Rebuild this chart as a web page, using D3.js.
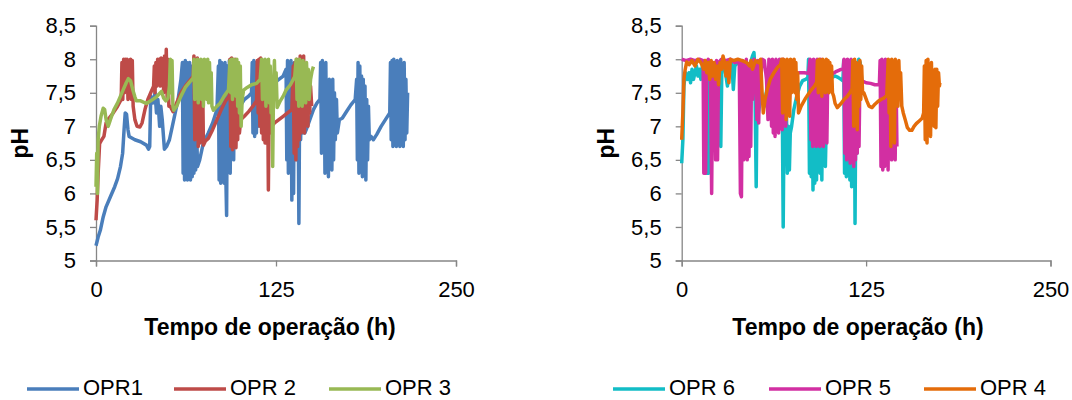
<!DOCTYPE html>
<html>
<head>
<meta charset="utf-8">
<script src="https://cdn.jsdelivr.net/npm/d3@7"></script>
<style>
  body { margin: 0; background: #fff; }
  svg { display: block; }
  text { font-family: "Liberation Sans", Arial, sans-serif; fill: #000; }
</style>
</head>
<body>
<svg id="main-svg" width="1072" height="400"></svg>
<script>
// tick labels
const xTicks = [0, 125, 250];
const yTicks = [5, 5.5, 6, 6.5, 7, 7.5, 8, 8.5];

// series names (legend order)
const leftNames = ["OPR1", "OPR 2", "OPR 3"];
const rightNames = ["OPR 6", "OPR 5", "OPR 4"];

// [tempo (h), pH]
const opr1 = [[0,5.22],[1.5,5.35],[3,5.45],[5,5.65],[7,5.8],[10,5.95],[13,6.1],[15,6.22],[17,6.4],[18.5,6.6],[19.5,6.95],[20.3,7.2],[21.2,7.18],[22.2,6.95],[23,6.85],[27,6.8],[31,6.77],[35,6.72],[36.5,6.66],[37.3,6.7],[38,7.45],[39.5,7.35],[41,7.5],[42,7.2],[43,7.4],[44.2,7.0],[45,7.3],[46,7.1],[47.5,6.66],[49,6.7],[51,6.8],[53,7.0],[55,7.2],[57,7.4],[59,7.7],[60,7.95],
  [60.5,6.3],[61,7.95],[61.5,6.2],[62,7.98],[62.5,6.25],[63,7.95],[63.5,6.2],[64,7.9],[64.5,6.3],[65,7.95],[65.6,6.2],[66.2,7.9],[66.8,6.25],[67.4,7.6],[68,6.3],[68.6,7.4],[69.2,6.35],[69.8,7.0],[70.5,6.4],
  [72,6.5],[74.5,6.75],[78,6.9],[81,7.05],[84,7.25],[85,7.9],
  [85.5,6.2],[86,7.98],[86.6,6.15],[87.2,7.95],[87.8,6.3],[88.4,7.9],[89,6.15],[89.6,7.95],[90.2,6.2],[90.7,5.67],[91.3,7.9],[92,6.4],[92.6,7.98],[93.2,6.3],[93.8,7.9],[94.4,6.6],[95,7.95],[95.6,6.5],[96.2,7.8],[96.8,6.7],[97.5,7.3],
  [98,7.1],[100,7.3],[103,7.4],[106,7.45],[108,7.5],
  [108.5,7.95],[109,6.9],[109.6,7.98],[110.2,6.85],[110.8,7.95],[111.4,6.9],[112,7.9],[112.6,7.0],[113.2,7.85],[113.8,7.2],
  [115,7.4],[118,7.5],[121,7.6],[124,7.65],[127,7.7],[130,7.75],[132,7.85],
  [132.5,6.5],[133,7.98],[133.6,6.3],[134.2,7.95],[134.8,6.6],[135.4,7.98],[136,5.9],[136.6,7.9],[137.2,6.0],[137.8,7.95],[138.4,6.6],[139,7.9],[139.6,6.5],[140.2,7.8],[140.9,5.55],[141.5,7.6],[142.1,6.8],[142.7,7.5],[143.3,6.9],[144,7.2],[145,6.9],
  [146,6.95],[148.5,7.1],[151,7.25],[153.5,7.35],[155.5,7.4],
  [156,7.95],[156.6,6.6],[157.2,7.98],[157.8,6.9],[158.4,7.9],[159,6.3],[159.6,7.95],[160.2,6.5],[160.8,7.6],[161.4,6.25],[162,7.7],[162.6,6.4],[163.2,7.2],[163.8,6.35],[164.4,7.7],[165,6.5],[165.6,7.5],[166.2,6.8],[167,7.4],[167.6,6.9],
  [169,7.1],[171,7.12],[174,7.22],[177,7.32],[180,7.4],[181,7.7],
  [181.5,6.5],[182,7.95],[182.6,6.3],[183.2,7.9],[183.8,6.6],[184.4,7.75],[185,6.25],[185.6,7.7],[186.2,6.4],[186.8,7.6],[187.4,6.2],[188,7.4],[188.6,6.5],[189.2,7.3],[189.8,6.8],
  [191,6.85],[192.6,6.8],[195,6.88],[198,7.0],[201,7.1],[204,7.2],
  [204.5,7.95],[205,6.8],[205.6,7.98],[206.2,6.7],[206.8,8.0],[207.4,6.75],[208,7.9],[208.6,6.7],[209.2,7.98],[209.8,6.8],[210.4,7.95],[211,6.7],[211.6,8.0],[212.2,6.75],[212.8,7.9],[213.4,6.7],[214,7.95],[214.6,6.8],[215.2,7.7],[215.8,6.9],[216.4,7.5]];

const opr2 = [[0,5.6],[0.8,5.9],[1.5,6.3],[2.5,6.74],[4,6.8],[5.5,6.85],[7,7.05],[9,7.12],[12,7.2],[15,7.3],[17.5,7.4],
  [18,7.95],[18.6,7.4],[19.2,8.0],[19.8,7.5],[20.4,8.0],[21,7.6],[21.6,8.0],[22.2,7.4],[22.8,7.98],[23.4,7.5],[24,8.0],[24.6,7.4],[25.2,7.98],[25.8,7.3],
  [27,7.1],[28.5,7.0],[30.5,6.99],[32,7.05],[34,7.25],[36,7.4],[38,7.5],[40,7.6],
  [40.5,7.9],[41,7.5],[41.6,7.95],[42.2,7.6],[42.8,8.0],[43.4,7.7],[44,8.0],[44.6,7.6],[45.2,8.02],[45.8,7.7],[46.4,8.0],[47,7.5],[47.6,8.05],[48.2,7.6],[48.8,8.15],[49.4,7.4],[50,8.0],[50.6,7.3],
  [51.5,7.3],[53.5,7.22],[56,7.35],[59,7.5],[62,7.6],[65,7.68],[67.5,7.75],
  [68,8.05],[68.6,6.8],[69.2,8.0],[69.8,7.0],[70.4,8.02],[71,6.7],[71.6,7.95],[72.2,6.75],[72.8,7.9],[73.4,6.9],[74,7.8],[74.6,6.72],
  [76,6.78],[78,6.82],[81,6.95],[84,7.1],[87,7.25],[90,7.38],[92.5,7.45],
  [93,8.0],[93.6,6.7],[94.2,8.02],[94.8,6.65],[95.4,7.98],[96,6.7],[96.6,8.0],[97.2,6.68],[97.8,7.9],[98.4,6.8],[99,7.7],[99.6,6.9],
  [100.5,7.1],[103,7.15],[106,7.22],[109,7.3],[111.5,7.38],
  [112,7.98],[112.6,7.2],[113.2,8.0],[113.8,7.0],[114.4,8.02],[115,6.9],[115.6,7.98],[116.2,6.8],[116.8,7.95],[117.4,6.75],[118,7.9],[118.6,6.8],[119.2,7.5],[119.7,6.05],[120.3,7.4],[121,6.9],
  [122,7.0],[124,7.05],[127,7.1],[130,7.15],[133,7.2],[136,7.25],
  [137,7.9],[137.6,6.6],[138.2,7.95],[138.8,6.5],[139.4,8.0],[140,6.7],[140.6,7.98],[141.2,6.8],[141.8,8.05],[142.4,6.9],[143,7.95],[143.6,7.0],[144.2,8.05],[144.8,6.9],[145.4,7.9],[146,7.1],[146.6,7.8],[147.2,7.0],[147.8,7.7],[148.4,7.2],[149,7.6],[149.8,7.3]];

const opr3 = [[0,6.1],[0.5,6.6],[1,6.0],[1.5,6.8],[2.3,7.0],[3.5,7.15],[5,7.27],[6,7.25],[7,7.1],[8.5,7.0],[10,7.1],[12.5,7.25],[15,7.35],[17,7.45],[19,7.55],[21,7.65],[22.5,7.71],[24,7.68],[25.5,7.55],[27,7.44],[28,7.38],[31,7.38],[35,7.34],[38,7.38],[42,7.44],[45.5,7.52],[47,7.42],[48.5,7.38],[50,7.42],
  [51,7.6],[51.6,8.0],[52.2,7.5],[52.8,7.98],[53.4,7.3],
  [54,7.24],[56,7.3],[59,7.45],[62,7.58],[65,7.66],[67.5,7.72],
  [68,8.0],[68.6,7.4],[69.2,7.98],[69.8,7.5],[70.4,8.0],[71,7.35],[71.6,7.98],[72.2,7.5],[72.8,8.0],[73.4,7.4],[74,7.98],[74.6,7.3],[75.2,8.0],[75.8,7.5],[76.4,7.98],[77,7.4],[77.6,8.0],[78.2,7.35],[78.8,7.95],[79.4,7.5],[80,7.8],
  [80.5,7.3],[81.5,7.24],[84,7.3],[86,7.34],[89,7.45],[92,7.54],
  [93,7.98],[93.6,7.5],[94.2,8.0],[94.8,7.4],[95.4,8.0],[96,7.5],[96.6,7.98],[97.2,7.45],[97.8,8.0],[98.4,7.3],[99,7.95],[99.6,7.2],[100.2,7.9],[100.8,7.0],
  [101.5,7.4],[102.5,7.54],[105,7.58],[108,7.62],[111.5,7.64],[114,7.7],
  [115,8.0],[115.6,7.4],[116.2,7.98],[116.8,7.5],[117.4,8.0],[118,7.3],[118.6,7.95],[119.2,7.5],[119.8,8.0],[120.4,7.35],[121,7.9],[121.6,7.2],[122.2,7.7],[122.7,6.4],[123.3,7.6],[123.9,7.98],[124.5,7.4],[125.1,7.8],
  [125.8,7.28],[128,7.38],[130,7.45],[132,7.54],[135,7.62],[138,7.74],
  [139,8.0],[139.6,7.4],[140.2,7.98],[140.8,7.3],[141.4,8.0],[142,7.5],[142.6,7.95],[143.2,7.3],[143.8,7.98],[144.4,7.45],[145,7.9],[145.6,7.35],[146.2,7.95],[146.8,7.5],[147.4,7.85],[148,7.4],
  [149,7.7],[150,7.82],[151,7.89]];

const opr6 = [[0,6.45],[0.8,6.8],[1.5,7.6],[2.5,7.8],[4,7.7],[5,7.8],[6,7.65],[7,7.85],[8,7.7],[9,7.8],[10,7.9],[11,7.75],[12,7.85],[13,7.7],[14,7.9],[15,7.85],[16,7.95],
  [17,6.3],[17.6,7.95],[18.3,6.3],[19,7.9],[21,7.85],[23,7.9],[25,7.8],
  [26.5,6.7],[27.2,7.85],[29,7.9],[31,7.6],[32,7.9],[34,7.95],[35,7.55],[36,7.9],[38,7.95],[40,7.9],[42,7.7],[44,7.95],[46,7.9],[48,8.05],[49,8.1],[49.5,7.9],
  [50.5,6.1],[51.2,7.8],[52,7.2],[54,7.5],[56,7.3],[58,7.6],[60,7.9],[62,7.7],[64,7.95],[66,7.8],[68,7.9],
  [68.8,5.5],[69.5,7.4],[70.2,6.7],[71,7.2],[71.6,6.3],[72.3,7.0],[73,6.35],[73.6,6.9],[74.5,7.0],[76,7.25],[78,7.45],[80,7.6],[82,7.68],[84,7.7],[85.5,7.72],
  [86,8.0],[86.6,6.3],[87.2,7.9],[87.8,6.25],[88.4,7.95],[89,6.05],[89.6,7.9],[90.2,6.15],[90.8,7.8],[91.4,6.2],[92,7.9],[92.6,6.4],[93.2,7.85],[93.8,6.3],[94.4,7.9],[95,6.2],[95.6,7.8],[96.2,6.5],[96.8,7.7],[97.4,6.4],
  [98.5,7.6],[100,7.68],[102,7.73],[104,7.75],[106,7.73],[108,7.7],[109.3,7.68],
  [109.8,7.98],[110.4,6.3],[111,7.95],[111.6,6.25],[112.2,7.9],[112.8,6.4],[113.4,7.98],[114,6.2],[114.6,7.9],[115.2,6.1],[115.8,7.85],[116.4,6.3],[117,7.7],[117.5,5.55],[118.1,7.6],[118.7,6.6],[119.3,7.9],[120,8.0],[121,7.95],[122,7.7]];

const opr5 = [[0,8.0],[3,7.98],[6,8.0],[9,7.98],[12,8.0],[14.5,7.98],
  [15,6.3],[15.6,7.98],[16.2,6.3],[17,7.95],[18,8.0],[19.5,7.9],
  [20.3,6.0],[21,7.95],[22,7.9],[23,6.5],[23.6,7.98],[24.3,6.5],[25,7.95],[27,8.0],[30,7.98],[33,8.0],[36,7.95],[39,7.98],
  [39.8,6.0],[40.5,5.95],[41.2,7.98],[42,6.5],[42.6,7.95],[43.2,6.6],[43.8,8.0],[44.4,6.5],[45,7.9],[45.6,6.55],[46.2,7.8],[46.8,6.7],[47.4,7.95],[48,7.4],
  [49,8.0],[50,7.9],[51,7.1],[51.6,7.98],[52.2,7.05],[52.8,7.95],[53.4,7.6],[54.5,8.0],[56,7.98],[57.5,7.7],
  [58.5,7.1],[59.1,8.0],[59.7,7.2],[60.3,7.98],[60.9,7.0],[61.5,8.0],[62.1,6.9],[62.7,7.95],[63.3,6.85],[63.9,8.0],[64.5,7.0],[65.1,7.9],[65.7,6.9],[66.3,8.0],[66.9,7.1],[67.5,7.95],[68.1,6.95],[68.7,8.0],[69.3,7.2],[69.9,7.9],[70.5,7.0],[71.1,7.95],[71.7,7.3],[72.3,7.8],[73,7.4],
  [74,7.8],[77,7.78],[80,7.8],[83,7.8],[86,7.79],
  [87,8.0],[87.6,6.8],[88.2,7.98],[88.8,6.7],[89.4,8.0],[90,6.75],[90.6,7.95],[91.2,6.7],[91.8,8.0],[92.4,6.8],[93,7.95],[93.6,6.7],[94.2,8.0],[94.8,6.75],[95.4,7.9],[96,6.7],[96.6,7.95],[97.2,6.8],[97.8,7.9],[98.4,6.75],[99,7.8],
  [99.8,7.75],[102,7.78],[105,7.82],[108,7.85],[109.5,7.86],
  [110,8.0],[110.6,6.6],[111.2,7.98],[111.8,6.5],[112.4,8.0],[113,6.7],[113.6,7.95],[114.2,6.45],[114.8,8.0],[115.4,6.6],[116,7.9],[116.6,6.4],[117.2,7.95],[117.8,6.5],[118.4,7.9],[119,6.6],[119.6,7.8],[120.2,6.7],[120.8,7.7],
  [122,7.68],[125,7.65],[128,7.64],[131,7.62],[134,7.62],
  [134.5,7.98],[135.1,6.4],[135.7,8.0],[136.3,6.35],[136.9,7.95],[137.5,6.4],[138.1,8.0],[138.7,6.5],[139.3,7.9],[139.9,6.35],[140.5,7.98],[141.1,6.6],[141.7,7.9],[142.3,6.5],[142.9,7.95],[143.5,6.6],[144.1,7.8],[144.7,6.5],[145.3,7.7],[145.9,6.7]];

const opr4 = [[0,6.8],[0.8,7.2],[1.5,7.7],[2.3,7.84],[3.4,7.96],[5,7.92],[7,7.98],[9,7.9],[11,8.0],[13,7.95],[15,7.85],[16,7.98],[17,7.8],[18,7.95],[19,7.7],[20,7.98],[21,7.75],[22,7.95],[23,7.7],[24,7.9],[25,7.62],[26,7.95],[27,7.85],[28,8.05],[29,7.95],[30,7.75],[31,7.95],[32,7.65],[33,8.0],[35,7.98],[38,8.0],[41,7.98],[44,7.95],[46,7.9],[47,7.98],[48,7.85],[50,7.98],[52,7.95],[53.5,8.0],
  [54.5,7.5],[55.3,7.2],[56.5,7.4],[58,7.55],[60,7.7],[62.5,7.8],[65,7.88],[67,7.92],
  [67.8,8.0],[68.4,7.2],[69,8.0],[69.6,7.3],[70.2,7.98],[70.8,7.1],[71.4,8.0],[72,7.4],[72.6,7.98],[73.2,7.15],[73.8,8.0],[74.4,7.5],[75,7.98],[75.6,7.6],[76.2,8.0],[76.8,7.5],[77.4,7.95],[78,7.4],[78.6,7.8],
  [79.2,7.2],[81,7.3],[84,7.42],[87,7.52],[90,7.6],[91.5,7.66],
  [92,7.98],[92.6,7.5],[93.2,8.0],[93.8,7.6],[94.4,7.98],[95,7.45],[95.6,8.0],[96.2,7.6],[96.8,7.95],[97.4,7.5],[98,8.0],[98.6,7.6],[99.2,7.98],[99.8,7.5],[100.4,7.95],[101,7.6],[101.6,7.9],[102.2,7.5],
  [103,7.45],[104,7.34],[105.5,7.28],[108,7.34],[110,7.4],[112,7.44],[114,7.5],[115.5,7.56],
  [116,7.98],[116.6,7.0],[117.2,8.0],[117.8,7.2],[118.4,7.95],[119,6.95],[119.6,7.9],[120.2,7.3],[120.8,7.98],[121.4,7.4],[122,7.9],[122.6,7.5],
  [123.5,7.5],[125.5,7.38],[127,7.3],[129,7.28],[131,7.33],[133,7.37],[135,7.4],[137,7.42],[139,7.46],
  [140,8.0],[140.6,7.2],[141.2,7.98],[141.8,6.7],[142.4,8.0],[143,7.3],[143.6,7.95],[144.2,6.75],[144.8,8.0],[145.4,7.4],[146,7.9],[146.6,7.3],[147.2,7.98],[147.8,7.5],[148.4,7.8],
  [149.2,7.3],[150.2,7.2],[151.5,7.1],[153,6.98],[154.5,6.94],[156,6.94],[157.5,7.0],[159,7.04],[161,7.08],[163,7.12],[164,7.2],
  [164.5,7.9],[165.1,6.8],[165.7,7.98],[166.3,6.75],[166.9,8.0],[167.5,7.0],[168.1,7.9],[168.7,6.85],[169.3,7.95],[169.9,7.1],[170.5,7.8],[171.1,7.0],[171.7,7.85],[172.3,6.98],[172.9,7.85],[173.5,7.3],[174.1,7.8],[174.7,7.6],[175,7.65]];

const leftColors = ["#4A7EBB", "#BE4B48", "#98B954"];
const rightColors = ["#12BDC6", "#D22FA2", "#E46C0A"];

const svg = d3.select("#main-svg");
const axisColor = "#868686";
const fmt = d => String(d).replace(".", ",");

function drawPanel(cfg) {
    const g = svg.append("g");
    const x = d3.scaleLinear().domain([0, 250]).range([cfg.x0, cfg.x1]);
    const y = d3.scaleLinear().domain([5, 8.5]).range([260.5, 25.7]);

    // y axis
    const yAxis = g.append("g")
        .attr("transform", `translate(${cfg.x0},0)`)
        .call(d3.axisLeft(y).tickValues(yTicks).tickFormat(fmt).tickSize(6).tickPadding(14));
    // x axis
    const xAxis = g.append("g")
        .attr("transform", `translate(0,${y(5)})`)
        .call(d3.axisBottom(x).tickValues(xTicks).tickSize(6).tickPadding(15));

    [yAxis, xAxis].forEach(a => {
        a.select(".domain").attr("stroke", axisColor).attr("stroke-width", 1.3);
        a.selectAll(".tick line").attr("stroke", axisColor).attr("stroke-width", 1.3);
        a.selectAll(".tick text").attr("font-size", 22)
            .attr("font-family", "'Liberation Sans', Arial, sans-serif").attr("fill", "#000");
    });

    // lines
    const line = d3.line().x(d => x(d[0])).y(d => y(d[1]));
    cfg.data.forEach((s, i) => {
        g.append("path")
            .datum(s)
            .attr("d", line)
            .attr("fill", "none")
            .attr("stroke", cfg.colors[i])
            .attr("stroke-width", 3.5)
            .attr("stroke-linejoin", "round");
    });

    // axis titles
    g.append("text")
        .attr("x", cfg.titleX)
        .attr("y", 335)
        .attr("text-anchor", "middle")
        .attr("font-size", 23)
        .attr("font-weight", "bold")
        .text("Tempo de operação (h)");

    g.append("text")
        .attr("transform", `translate(${cfg.x0 - 68},${(y(5) + y(8.5)) / 2}) rotate(-90)`)
        .attr("text-anchor", "middle")
        .attr("font-size", 23)
        .attr("font-weight", "bold")
        .text("pH");

    // legend (the reference clips it at the bottom edge; kept just inside here)
    cfg.names.forEach((n, i) => {
        const lx = cfg.legendX[i];
        g.append("line")
            .attr("x1", lx).attr("x2", lx + 52)
            .attr("y1", 389).attr("y2", 389)
            .attr("stroke", cfg.colors[i])
            .attr("stroke-width", 3.5);
        g.append("text")
            .attr("x", lx + 56)
            .attr("y", 395)
            .attr("font-size", 22)
            .text(n);
    });
}

drawPanel({x0: 96, x1: 456, data: [opr1, opr2, opr3], colors: leftColors, names: leftNames,
    legendX: [27, 174, 329], titleX: 270});
drawPanel({x0: 681.7, x1: 1050.5, data: [opr6, opr5, opr4], colors: rightColors, names: rightNames,
    legendX: [613, 769, 924], titleX: 858});
</script>
</body>
</html>
